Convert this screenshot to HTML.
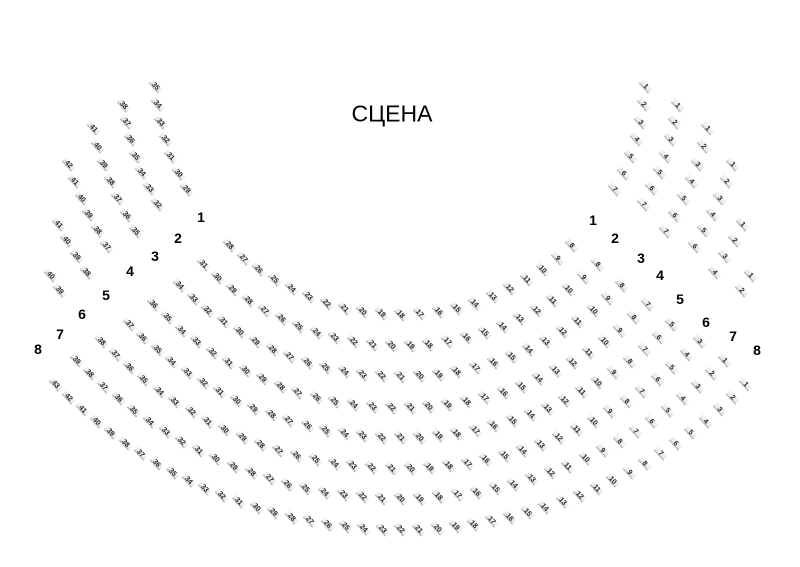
<!DOCTYPE html>
<html><head><meta charset="utf-8">
<style>
html,body{margin:0;padding:0;background:#fff;}
#c{position:relative;width:800px;height:567px;overflow:hidden;font-family:"Liberation Sans",sans-serif;}
.s{position:absolute;width:14px;height:8px;margin-left:-7px;margin-top:-4px;transform:rotate(48deg);
 background:linear-gradient(to bottom,#f4f4f4 0,#e8e8e8 60%,#bdbdbd 60%,#bdbdbd 78%,transparent 78%);
 font-size:7px;font-weight:bold;line-height:7px;text-align:center;color:#222;}
.r{position:absolute;font-size:14px;font-weight:bold;color:#000;transform:translate(-50%,-50%);}
.t{position:absolute;left:392px;top:114px;transform:translate(-50%,-50%);font-size:23px;color:#000;}
</style></head><body><div id="c">
<div class="t">СЦЕНА</div>
</div>
<script>
var c=document.getElementById('c');
var rows=[
 {R:246,cy:69,b:7,bo:85.9,bi:60.5,m:21,ae:44},
 {R:280,cy:66,b:7,bo:81.8,bi:60.3,m:24,ae:44.6},
 {R:314,cy:63,b:7,bo:77.9,bi:57.5,m:27,ae:44.7},
 {R:348,cy:60,b:6,bo:72.5,bi:57.6,m:30,ae:45.2},
 {R:381,cy:57,b:4,bo:63.9,bi:55.5,m:33,ae:45.4},
 {R:415,cy:54,b:2,bo:57.6,bi:55.2,m:36,ae:46.1},
 {R:449,cy:50,b:0,m:39,ae:46.2},
 {R:483,cy:47,b:0,m:43,ae:45.6}
];
function lin(a,b,n){var o=[];for(var i=0;i<n;i++)o.push(n==1?a:a+(b-a)*i/(n-1));return o;}
var h='';
rows.forEach(function(r){
 var ang=[];
 if(r.b)ang=ang.concat(lin(r.bo,r.bi,r.b));
 ang=ang.concat(lin(r.ae,-r.ae,r.m));
 if(r.b)ang=ang.concat(lin(-r.bi,-r.bo,r.b));
 var N=ang.length;
 ang.forEach(function(a,i){
  var t=a*Math.PI/180;
  var x=400-r.R*Math.sin(t), y=r.cy+r.R*Math.cos(t);
  h+='<div class="s" style="left:'+x.toFixed(1)+'px;top:'+y.toFixed(1)+'px">'+(N-i)+'</div>';
 });
});
var L=[[201,217],[178,238],[155,256],[130,271],[106,295],[82,314],[60,334],[38,349]];
var Rr=[[593,220],[615,238],[641,258],[660,275],[680,299],[706,322],[733,336],[757,350]];
L.forEach(function(p,i){h+='<div class="r" style="left:'+p[0]+'px;top:'+p[1]+'px">'+(i+1)+'</div>';});
Rr.forEach(function(p,i){h+='<div class="r" style="left:'+p[0]+'px;top:'+p[1]+'px">'+(i+1)+'</div>';});
c.insertAdjacentHTML('beforeend',h);
</script>
</body></html>
